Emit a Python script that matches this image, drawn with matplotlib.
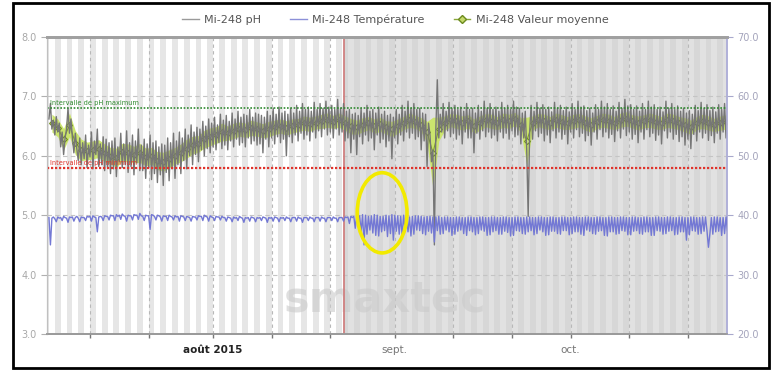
import matplotlib
matplotlib.use('Agg')
import matplotlib.pyplot as plt
from matplotlib.patches import Ellipse, Rectangle
from matplotlib.lines import Line2D
import matplotlib.dates as mdates
import pandas as pd
import numpy as np

# ---------------- data ----------------
series_start = '2015-07-04 00:00'   # samples every 6 hours
ph_values = [
    6.62, 6.88, 6.45, 6.60,  6.35, 6.66, 6.40, 6.55,  6.15, 6.40, 6.02, 6.30,  6.45, 6.80, 6.38, 6.62,
    6.30, 6.05, 6.38, 6.12,  5.92, 6.30, 5.85, 6.22,  5.95, 6.35, 5.80, 6.18,  5.98, 6.40, 5.78, 6.25,
    6.02, 6.45, 5.82, 6.20,  5.85, 6.32, 5.75, 6.28,  5.80, 6.22, 5.70, 6.25,  5.78, 6.30, 5.65, 6.15,
    5.90, 6.38, 5.80, 6.20,  5.85, 6.42, 5.72, 6.22,  5.82, 6.35, 5.68, 6.25,  5.88, 6.45, 5.75, 6.18,
    5.75, 6.28, 5.62, 6.20,  5.80, 6.35, 5.60, 6.22,  5.70, 6.25, 5.55, 6.15,  5.68, 6.20, 5.50, 6.18,
    5.72, 6.30, 5.58, 6.22,  5.78, 6.38, 5.62, 6.25,  5.85, 6.40, 5.70, 6.30,  5.92, 6.45, 5.78, 6.35,
    6.00, 6.52, 5.85, 6.40,  6.02, 6.48, 5.90, 6.45,  6.10, 6.58, 6.00, 6.50,  6.12, 6.62, 6.05, 6.55,
    6.15, 6.65, 6.10, 6.52,  6.22, 6.70, 6.12, 6.60,  6.18, 6.68, 6.10, 6.58,  6.25, 6.72, 6.15, 6.62,
    6.28, 6.75, 6.18, 6.65,  6.22, 6.70, 6.15, 6.68,  6.30, 6.78, 6.20, 6.65,  6.25, 6.72, 6.18, 6.70,
    6.20, 6.68, 6.05, 6.65,  6.28, 6.75, 6.15, 6.68,  6.30, 6.80, 6.20, 6.70,  6.32, 6.82, 6.22, 6.72,
    6.28, 6.75, 6.00, 6.70,  6.32, 6.80, 6.22, 6.72,  6.35, 6.85, 6.25, 6.75,  6.38, 6.88, 6.28, 6.78,
    6.35, 6.82, 6.25, 6.75,  6.40, 6.90, 6.30, 6.78,  6.42, 6.88, 6.32, 6.80,  6.45, 6.92, 6.35, 6.82,
    6.40, 6.85, 6.30, 6.78,  6.45, 6.95, 6.35, 6.80,  6.40, 6.88, 6.25, 6.75,  6.30, 6.78, 6.05, 6.70,
    6.28, 6.72, 6.02, 6.68,  6.32, 6.80, 6.20, 6.72,  6.35, 6.85, 6.25, 6.75,  6.30, 6.78, 6.10, 6.72,
    6.35, 6.82, 6.22, 6.70,  6.28, 6.75, 6.15, 6.68,  6.25, 6.70, 5.95, 6.65,  6.30, 6.78, 6.20, 6.70,
    6.35, 6.85, 6.25, 6.75,  6.40, 6.92, 6.30, 6.80,  6.38, 6.88, 6.28, 6.78,  6.32, 6.80, 6.10, 6.72,
    6.25, 6.70, 5.82, 6.55,  6.35, 5.90, 6.10, 4.50,  6.45, 7.28, 6.30, 6.70,  6.40, 6.88, 6.30, 6.75,
    6.42, 6.90, 6.32, 6.80,  6.38, 6.85, 6.28, 6.78,  6.35, 6.82, 6.20, 6.75,  6.40, 6.88, 6.30, 6.78,
    6.30, 6.80, 6.05, 6.72,  6.38, 6.85, 6.28, 6.75,  6.42, 6.92, 6.32, 6.80,  6.40, 6.88, 6.30, 6.78,
    6.35, 6.82, 6.25, 6.75,  6.40, 6.90, 6.30, 6.80,  6.38, 6.85, 6.28, 6.78,  6.42, 6.92, 6.32, 6.82,
    6.35, 6.80, 6.20, 6.72,  6.30, 6.75, 6.10, 4.98,  6.40, 6.85, 6.28, 6.75,  6.42, 6.90, 6.32, 6.80,
    6.38, 6.86, 6.25, 6.78,  6.35, 6.82, 6.22, 6.74,  6.42, 6.90, 6.30, 6.80,  6.40, 6.85, 6.28, 6.76,
    6.36, 6.82, 6.20, 6.74,  6.40, 6.88, 6.30, 6.78,  6.44, 6.92, 6.32, 6.82,  6.38, 6.84, 6.25, 6.76,
    6.34, 6.80, 6.18, 6.72,  6.40, 6.86, 6.28, 6.78,  6.44, 6.92, 6.32, 6.82,  6.40, 6.88, 6.30, 6.78,
    6.36, 6.84, 6.24, 6.75,  6.42, 6.90, 6.30, 6.80,  6.45, 6.95, 6.34, 6.84,  6.40, 6.86, 6.28, 6.78,
    6.36, 6.84, 6.22, 6.75,  6.40, 6.88, 6.28, 6.78,  6.44, 6.92, 6.32, 6.82,  6.38, 6.86, 6.26, 6.78,
    6.35, 6.82, 6.20, 6.74,  6.42, 6.92, 6.30, 6.80,  6.40, 6.88, 6.28, 6.78,  6.36, 6.84, 6.24, 6.75,
    6.32, 6.80, 6.18, 6.72,  6.28, 6.76, 6.12, 6.70,  6.36, 6.85, 6.25, 6.76,  6.40, 6.90, 6.30, 6.80,
    6.38, 6.86, 6.26, 6.76,  6.34, 6.82, 6.22, 6.74,  6.38, 6.86, 6.28, 6.78,  6.40, 6.88, 6.30, 6.78,
]
temp_values = [
    39.6, 35.0, 39.5, 39.7,  39.4, 38.9, 39.7, 39.5,  39.6, 39.1, 39.8, 39.6,  39.5, 38.8, 39.7, 39.6,
    39.7, 39.0, 39.6, 39.8,  39.5, 38.9, 39.7, 39.6,  39.6, 39.1, 39.8, 39.7,  39.8, 39.0, 39.9, 39.7,
    39.6, 37.2, 39.7, 39.8,  39.7, 39.1, 39.9, 39.8,  39.8, 39.2, 40.0, 39.9,  39.9, 39.1, 40.1, 39.8,
    40.0, 39.3, 40.2, 39.9,  39.8, 39.0, 40.0, 39.9,  39.9, 39.2, 40.1, 40.0,  40.0, 39.3, 40.3, 39.9,
    39.8, 39.1, 40.0, 39.9,  39.9, 37.6, 40.1, 40.0,  39.8, 39.2, 40.0, 39.9,  39.7, 39.0, 39.9, 39.8,
    39.8, 39.1, 40.0, 39.8,  39.7, 39.2, 39.9, 39.7,  39.8, 39.0, 39.9, 39.8,  39.7, 39.1, 39.8, 39.7,
    39.6, 39.0, 39.8, 39.7,  39.7, 39.2, 39.9, 39.8,  39.8, 39.1, 40.0, 39.8,  39.7, 39.0, 39.9, 39.7,
    39.6, 39.1, 39.8, 39.7,  39.7, 39.2, 39.8, 39.6,  39.6, 39.0, 39.7, 39.6,  39.5, 38.9, 39.7, 39.5,
    39.6, 39.1, 39.8, 39.6,  39.5, 38.8, 39.6, 39.5,  39.6, 39.0, 39.7, 39.6,  39.5, 38.9, 39.6, 39.5,
    39.6, 39.1, 39.7, 39.6,  39.5, 38.8, 39.6, 39.5,  39.6, 39.0, 39.7, 39.6,  39.5, 38.9, 39.6, 39.5,
    39.6, 39.1, 39.7, 39.5,  39.5, 38.9, 39.6, 39.6,  39.6, 39.0, 39.7, 39.5,  39.5, 38.8, 39.6, 39.6,
    39.6, 39.1, 39.7, 39.5,  39.5, 38.9, 39.6, 39.6,  39.6, 39.0, 39.7, 39.5,  39.5, 38.9, 39.6, 39.6,
    39.6, 39.1, 39.7, 39.5,  39.5, 38.9, 39.6, 39.6,  39.6, 39.0, 39.7, 39.6,  39.7, 38.6, 39.8, 39.6,
    39.8, 37.8, 39.9, 38.2,  39.9, 37.2, 40.1, 35.0,  40.0, 36.8, 39.8, 37.5,  39.9, 37.0, 40.1, 36.6,
    40.0, 36.5, 39.8, 37.2,  39.8, 37.4, 40.0, 36.4,  39.9, 36.9, 40.1, 35.8,  40.0, 37.3, 39.9, 36.8,
    39.8, 36.6, 40.0, 37.4,  39.9, 37.2, 39.7, 36.5,  39.8, 36.8, 39.9, 37.5,  39.9, 37.4, 39.8, 36.9,
    39.7, 36.7, 39.8, 37.3,  39.8, 37.0, 39.7, 35.5,  39.7, 37.4, 39.8, 36.8,  39.6, 36.9, 39.7, 37.5,
    39.7, 37.2, 39.6, 36.6,  39.6, 36.8, 39.7, 37.3,  39.7, 37.5, 39.6, 36.9,  39.6, 36.6, 39.7, 37.4,
    39.7, 37.2, 39.6, 36.7,  39.6, 36.9, 39.7, 37.5,  39.7, 37.3, 39.6, 36.6,  39.6, 36.7, 39.7, 37.2,
    39.7, 37.4, 39.6, 36.8,  39.6, 36.8, 39.7, 37.3,  39.7, 37.1, 39.6, 36.5,  39.6, 36.6, 39.7, 37.4,
    39.7, 37.3, 39.6, 36.9,  39.6, 36.8, 39.7, 37.2,  39.7, 37.4, 39.6, 36.7,  39.6, 36.9, 39.7, 37.5,
    39.7, 37.2, 39.6, 36.6,  39.6, 36.7, 39.7, 37.3,  39.7, 37.3, 39.6, 36.9,  39.6, 36.8, 39.7, 37.4,
    39.7, 37.4, 39.6, 36.7,  39.6, 36.9, 39.7, 37.2,  39.7, 37.2, 39.6, 36.8,  39.6, 36.6, 39.7, 37.5,
    39.7, 37.3, 39.6, 36.9,  39.6, 36.8, 39.7, 37.3,  39.7, 37.4, 39.6, 36.6,  39.6, 36.5, 39.7, 37.2,
    39.7, 37.2, 39.6, 36.8,  39.6, 36.9, 39.7, 37.4,  39.7, 37.3, 39.6, 36.7,  39.6, 36.7, 39.7, 37.3,
    39.7, 37.4, 39.6, 36.9,  39.6, 36.8, 39.7, 37.2,  39.7, 37.2, 39.6, 36.6,  39.6, 36.6, 39.7, 37.4,
    39.7, 37.3, 39.6, 36.8,  39.6, 36.9, 39.7, 37.3,  39.7, 37.4, 39.6, 36.7,  39.6, 36.8, 39.7, 37.2,
    39.7, 37.2, 39.6, 35.8,  39.6, 36.7, 39.7, 37.4,  39.7, 37.3, 39.6, 36.8,  39.6, 36.9, 39.7, 37.3,
    39.7, 37.4, 34.6, 36.9,  39.6, 36.8, 39.7, 37.2,  39.7, 37.3, 39.6, 36.6,  39.6, 36.9, 39.7, 37.4,
]
mean_start = '2015-07-04 12:00'     # one value per day
mean_values = [
    6.55, 6.47, 6.28, 6.52, 6.22, 6.10, 6.08, 6.10, 6.12, 6.05,
    6.00, 5.97, 6.06, 6.05, 6.02, 6.05, 5.98, 6.00, 5.92, 5.90,
    5.95, 6.00, 6.05, 6.12, 6.18, 6.20, 6.28, 6.32, 6.35, 6.40,
    6.38, 6.42, 6.45, 6.43, 6.47, 6.45, 6.42, 6.45, 6.48, 6.50,
    6.47, 6.50, 6.52, 6.55, 6.53, 6.56, 6.58, 6.60, 6.57, 6.60,
    6.55, 6.50, 6.48, 6.52, 6.55, 6.50, 6.53, 6.48, 6.45, 6.50,
    6.55, 6.60, 6.57, 6.52, 6.40, 6.05, 6.45, 6.55, 6.60, 6.58,
    6.55, 6.58, 6.50, 6.55, 6.60, 6.58, 6.55, 6.60, 6.58, 6.62,
    6.52, 6.25, 6.55, 6.60, 6.58, 6.55, 6.60, 6.57, 6.55, 6.58,
    6.60, 6.55, 6.52, 6.57, 6.60, 6.58, 6.55, 6.60, 6.62, 6.58,
    6.55, 6.58, 6.60, 6.57, 6.55, 6.60, 6.58, 6.55, 6.52, 6.48,
    6.55, 6.58, 6.55, 6.52, 6.55, 6.57,
]
mean_spread = [
    0.15, 0.15, 0.18, 0.20, 0.20, 0.18, 0.15, 0.15, 0.15, 0.15,
    0.14, 0.16, 0.15, 0.15, 0.14, 0.16, 0.15, 0.14, 0.15, 0.16,
    0.15, 0.14, 0.15, 0.16, 0.15, 0.14, 0.15, 0.15, 0.14, 0.15,
    0.12, 0.13, 0.12, 0.12, 0.13, 0.12, 0.12, 0.13, 0.12, 0.12,
    0.12, 0.12, 0.11, 0.12, 0.12, 0.11, 0.12, 0.12, 0.11, 0.12,
    0.12, 0.13, 0.12, 0.12, 0.11, 0.12, 0.12, 0.11, 0.13, 0.12,
    0.11, 0.12, 0.11, 0.12, 0.18, 0.60, 0.20, 0.12, 0.11, 0.12,
    0.12, 0.11, 0.12, 0.12, 0.11, 0.12, 0.11, 0.12, 0.12, 0.11,
    0.12, 0.40, 0.12, 0.11, 0.12, 0.11, 0.12, 0.12, 0.11, 0.12,
    0.11, 0.12, 0.12, 0.11, 0.12, 0.12, 0.11, 0.12, 0.12, 0.11,
    0.12, 0.11, 0.12, 0.12, 0.11, 0.12, 0.12, 0.11, 0.12, 0.12,
    0.11, 0.12, 0.12, 0.11, 0.12, 0.12,
]
ph_max_limit = 6.8
ph_min_limit = 5.8
ph_max_label = 'Intervalle de pH maximum'
ph_min_label = 'Intervalle de pH minimum'
event_date = '2015-08-23 06:00'
x_range = ('2015-07-03 16:00', '2015-10-27 16:00')
x_tick_dates = ['2015-07-11', '2015-07-21', '2015-08-01', '2015-08-11', '2015-08-21',
                '2015-09-01', '2015-09-11', '2015-09-21', '2015-10-01', '2015-10-11', '2015-10-21']
x_tick_labels = ['', '', 'août 2015', '', '', 'sept.', '', '', 'oct.', '', '']
ph_ticks = [3.0, 4.0, 5.0, 6.0, 7.0, 8.0]
temp_ticks = [20.0, 30.0, 40.0, 50.0, 60.0, 70.0]
legend_labels = ['Mi-248 pH', 'Mi-248 Température', 'Mi-248 Valeur moyenne']
highlight_center = ('2015-08-29 20:00', 5.04)
highlight_size = (8.5, 1.35)   # days, pH units

# ---------------- figure ----------------
plt.rcParams['font.family'] = ['DejaVu Sans']
fig = plt.figure(figsize=(7.75, 3.7), dpi=100)
ax = fig.add_axes([47/775, 36/370, 680/775, 297/370])
ax2 = ax.twinx()

t_ph = pd.date_range(series_start, periods=len(ph_values), freq='6h')
t_tp = pd.date_range(series_start, periods=len(temp_values), freq='6h')
t_mean = pd.date_range(mean_start, periods=len(mean_values), freq='D')
x0, x1 = pd.Timestamp(x_range[0]), pd.Timestamp(x_range[1])
ev = pd.Timestamp(event_date)

# background day stripes
ax.axvspan(ev, x1 + pd.Timedelta(days=1), color='#d7d7d7', lw=0, zorder=0)
day = x0.normalize()
k = 0
while day < x1 + pd.Timedelta(days=1):
    nd = day + pd.Timedelta(days=1)
    if k % 2 == 0:
        if day < ev:
            ax.axvspan(day, min(nd, ev), color='#e6e6e6', lw=0, zorder=0.1)
        if nd > ev:
            ax.axvspan(max(day, ev), nd, color='#e1e1e1', lw=0, zorder=0.1)
    day = nd
    k += 1

# grid
for d in x_tick_dates:
    ax.axvline(pd.Timestamp(d), color='#b8b8b8', lw=0.8, ls=(0, (3, 3)), zorder=0.3)
for v in ph_ticks[1:-1]:
    ax.axhline(v, color='#c4c4c4', lw=0.8, ls=(0, (4, 3)), zorder=0.3)

# watermark
ax.text(0.497, 0.115, 'smaxtec', transform=ax.transAxes, fontsize=31, fontweight='bold',
        color='#cbcbcb', alpha=0.6, ha='center', va='center', zorder=0.4)

# event line
ax.axvline(ev, color='#d08080', lw=1.3, zorder=0.5)

# mean band and line
mv = np.array(mean_values)
ms = np.array(mean_spread)
ax.fill_between(t_mean, mv - ms, mv + ms, color='#cbe46e', lw=0, zorder=1)
ax.plot(t_mean, mv, color='#7f9e2a', lw=0.8, marker='D', ms=3.0, mfc='#d3e586',
        mec='#6e8c1c', mew=0.8, zorder=2)

# pH line
ax.plot(t_ph, ph_values, color='#767676', lw=1.0, zorder=3)

# limits
ax.axhline(ph_max_limit, color='#2f8a2f', lw=1.2, ls=(0, (1, 1)), zorder=4)
ax.axhline(ph_min_limit, color='#e0342c', lw=1.6, ls=(0, (1, 0.8)), zorder=4)
ax.text(x0 + pd.Timedelta(hours=14), ph_max_limit + 0.03, ph_max_label, fontsize=4.8,
        color='#2f8a2f', ha='left', va='bottom', zorder=5)
ax.text(x0 + pd.Timedelta(hours=14), ph_min_limit + 0.03, ph_min_label, fontsize=4.8,
        color='#e0342c', ha='left', va='bottom', zorder=5)

# temperature
ax2.plot(t_tp, temp_values, color='#7378d4', lw=1.0, zorder=3)

# highlight ellipse (on pH scale)
ell = Ellipse((mdates.date2num(pd.Timestamp(highlight_center[0])), highlight_center[1]),
              highlight_size[0], highlight_size[1], fill=False, ec='#f2ea00', lw=2.6,
              zorder=10)
ax2.add_patch(ell)
ell.set_transform(ax.transData)

# axes limits / ticks
ax.set_xlim(x0, x1)
ax.set_ylim(3, 8)
ax2.set_ylim(20, 70)
ax.set_yticks(ph_ticks)
ax.set_yticklabels(['%.1f' % v for v in ph_ticks])
ax2.set_yticks(temp_ticks)
ax2.set_yticklabels(['%.1f' % v for v in temp_ticks])
ax.set_xticks([pd.Timestamp(d) for d in x_tick_dates])
ax.set_xticklabels(x_tick_labels)
for lab in ax.get_xticklabels():
    if lab.get_text().startswith('août'):
        lab.set_fontweight('bold')
        lab.set_color('#222222')
    else:
        lab.set_color('#777777')
ax.tick_params(axis='x', length=3, width=1, color='#777777', labelsize=7.5, pad=5)
ax.tick_params(axis='y', length=4, width=0.8, color='#b0b0b0', labelcolor='#a8a8a8', labelsize=7)
ax2.tick_params(axis='y', length=4, width=0.8, color='#a8a8cc', labelcolor='#a4a4bc', labelsize=7)

for a in (ax, ax2):
    a.spines['top'].set_color('#a0a0a0')
    a.spines['top'].set_linewidth(2)
    a.spines['bottom'].set_color('#999999')
    a.spines['bottom'].set_linewidth(1.2)
    a.spines['left'].set_color('#c0c0c0')
    a.spines['right'].set_color('#b0b0d8')
    a.spines['right'].set_linewidth(1.2)
ax2.patch.set_visible(False)

# legend
handles = [Line2D([], [], color='#9a9a9a', lw=1),
           Line2D([], [], color='#8c90d8', lw=1),
           Line2D([], [], color='#8aa83a', lw=1, marker='D', ms=4, mfc='#c5d86a', mec='#6b8a1e')]
leg = fig.legend(handles, legend_labels, loc='center', bbox_to_anchor=(0.51, 0.947), ncol=3,
                 frameon=False, fontsize=8, handlelength=1.5, columnspacing=2.6, handletextpad=0.5)
for t in leg.get_texts():
    t.set_color('#555555')

# outer frame
fig.patches.append(Rectangle((13/775, 2/370), 756/775, 365/370, transform=fig.transFigure,
                             fill=False, ec='black', lw=2))

fig.savefig('out.png', dpi=100)
